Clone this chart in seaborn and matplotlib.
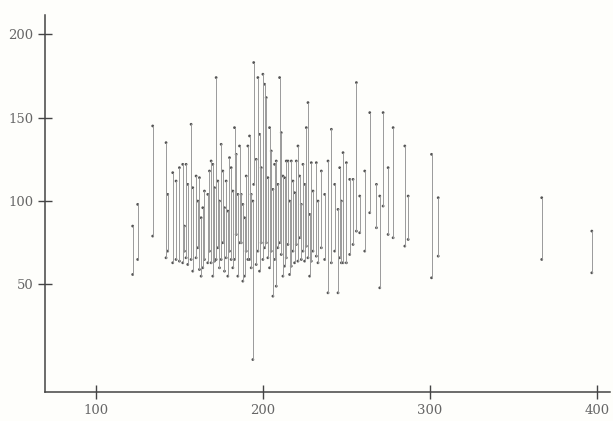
import numpy as np
import pandas as pd
import matplotlib
matplotlib.use('Agg')
import matplotlib.pyplot as plt
import seaborn as sns

# ------------------------------------------------------------
# data: one vertical segment per entry (x, low end, high end)
# ------------------------------------------------------------
seg_x = [122, 125, 134, 142, 143, 146, 148, 150, 152, 153,
         154, 155, 157, 158, 160, 161, 162, 163, 164, 165,
         167, 168, 169, 170, 171, 172, 173, 174, 175, 176,
         177, 178, 179, 180, 181, 182, 183, 184, 185, 186,
         187, 188, 189, 190, 191, 192, 193, 194, 194.5, 196,
         197, 198, 199, 200, 201, 202, 203, 204, 205, 206,
         207, 208, 209, 210, 211, 212, 213, 214, 215, 216,
         217, 218, 219, 220, 221, 222, 223, 224, 225, 226,
         227, 228, 229, 230, 232, 233, 235, 237, 239, 241,
         243, 245, 246, 247, 248, 250, 252, 254, 256, 258,
         261, 264, 268, 270, 272, 275, 278, 285, 287, 301,
         305, 367, 397]
seg_low = [56, 65, 79, 66, 70, 63, 65, 64, 63, 70,
           66, 62, 65, 58, 66, 72, 59, 55, 60, 65,
           63, 70, 63, 55, 64, 65, 72, 60, 65, 75,
           58, 66, 55, 70, 65, 60, 65, 80, 55, 75,
           75, 52, 55, 70, 65, 65, 60, 5, 110, 62,
           70, 58, 75, 65, 72, 75, 66, 60, 70, 43,
           65, 49, 72, 75, 68, 55, 61, 66, 74, 56,
           61, 70, 63, 74, 64, 78, 65, 70, 64, 73,
           66, 55, 64, 70, 67, 63, 72, 65, 45, 63,
           70, 45, 66, 63, 63, 63, 68, 74, 82, 81,
           70, 93, 84, 48, 97, 80, 78, 73, 77, 54,
           67, 65, 57]
seg_high = [85, 98, 145, 135, 104, 117, 112, 120, 122, 85,
            122, 110, 146, 108, 115, 100, 114, 90, 96, 106,
            104, 118, 124, 122, 108, 174, 112, 100, 134, 118,
            96, 112, 94, 126, 120, 106, 144, 128, 104, 133,
            104, 98, 90, 115, 133, 139, 104, 100, 183, 125,
            174, 140, 120, 176, 170, 162, 114, 144, 130, 107,
            122, 124, 110, 174, 141, 115, 114, 124, 124, 100,
            124, 112, 105, 124, 133, 115, 98, 122, 110, 144,
            159, 92, 123, 106, 123, 100, 118, 104, 124, 143,
            110, 95, 120, 100, 129, 123, 113, 113, 171, 103,
            118, 153, 110, 103, 153, 120, 144, 133, 103, 128,
            102, 102, 82]

x_ticks = [100, 200, 300, 400]
y_ticks = [50, 100, 150, 200]

# long format: two rows per segment
df = pd.DataFrame({
    'seg': np.repeat(np.arange(len(seg_x)), 2),
    'x': np.repeat(seg_x, 2),
    'y': np.ravel(np.column_stack([seg_low, seg_high])),
})

sns.set_style('ticks')
plt.rcParams['font.family'] = ['DejaVu Serif']

fig = plt.figure(figsize=(6.13, 4.21), dpi=100)
fig.patch.set_facecolor('#fefefb')
ax = fig.add_axes([0.0734, 0.069, 0.922, 0.895])
ax.set_facecolor('#fefefb')

sns.lineplot(data=df, x='x', y='y', units='seg', estimator=None, sort=False,
             color='#9a9a9a', lw=0.7, ax=ax, legend=False)
sns.scatterplot(data=df, x='x', y='y', color='#555555', s=4,
                edgecolor='none', ax=ax, legend=False)

ax.set_xlim(69.5, 408)
ax.set_ylim(-14.4, 211.4)
ax.set_xticks(x_ticks)
ax.set_yticks(y_ticks)
ax.set_xlabel('')
ax.set_ylabel('')
sns.despine(ax=ax)
for side in ['left', 'bottom']:
    ax.spines[side].set_color('#444444')
    ax.spines[side].set_linewidth(1.1)
ax.tick_params(direction='inout', length=10, width=1.0, color='#444444',
               labelcolor='#666666', labelsize=9.5)

plt.savefig('out.png', dpi=100, facecolor=fig.get_facecolor())
